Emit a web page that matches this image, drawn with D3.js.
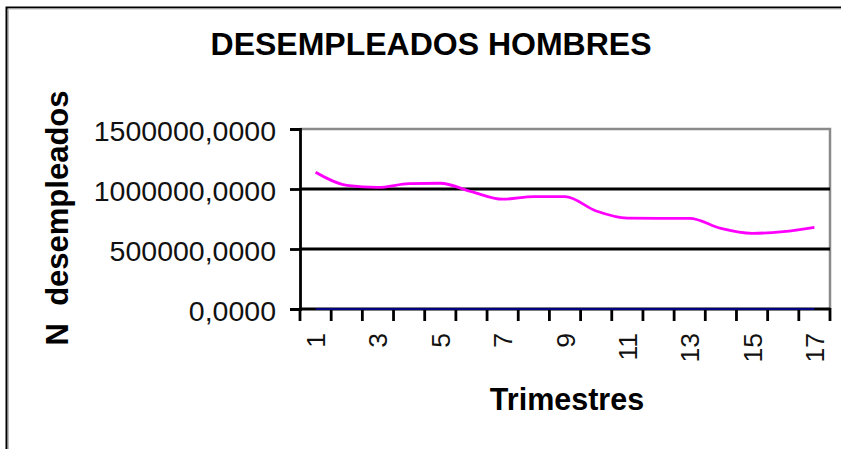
<!DOCTYPE html>
<html>
<head>
<meta charset="utf-8">
<script src="https://cdn.jsdelivr.net/npm/d3@7"></script>
<style>
  html, body { margin: 0; padding: 0; background: #fff; }
  svg { display: block; }
  text { font-family: "Liberation Sans", Arial, sans-serif; }
</style>
</head>
<body>
<svg id="chart" width="841" height="449"></svg>
<script>
const categories = [1,2,3,4,5,6,7,8,9,10,11,12,13,14,15,16,17];
const desempleados = [1139000,1030000,1013000,1045000,1048000,978000,915000,936000,936000,817000,758000,756000,756000,672000,631000,645000,681000];
const baseSeries = [0,0,0,0,0,0,0,0,0,0,0,0,0,0,0,0,0];
const xTickLabels = [1,3,5,7,9,11,13,15,17];
const yTicks = [0,500000,1000000,1500000];
const gridValues = [500000,1000000];
const title = "DESEMPLEADOS HOMBRES";
const xTitle = "Trimestres";
const yTitle = "N desempleados";

const svg = d3.select("#chart");
const plot = {left: 300, right: 830, top: 129, bottom: 309};

const x = d3.scaleBand().domain(categories).range([plot.left, plot.right]).padding(0);
const y = d3.scaleLinear().domain([0, 1500000]).range([plot.bottom, plot.top]);

// outer frame (top + left)
svg.append("path").attr("d", "M6.5,449 V7.5 H841").attr("fill","none").attr("stroke","#000").attr("stroke-width",2);
svg.append("path").attr("d", "M8.5,449 V9 H841").attr("fill","none").attr("stroke","#bbb").attr("stroke-width",1);

// plot top/right border (gray)
svg.append("path")
  .attr("d", `M${plot.left},${plot.top} H${plot.right} V${plot.bottom}`)
  .attr("fill","none").attr("stroke","#8a8a8a").attr("stroke-width",2.5);

// gridlines
svg.append("g").selectAll("line").data(gridValues).join("line")
  .attr("x1", plot.left).attr("x2", plot.right)
  .attr("y1", d => y(d)).attr("y2", d => y(d))
  .attr("stroke","#000").attr("stroke-width",2.8);

// y axis
const fmt = d => d.toFixed(4).replace(".", ",");
const yAxis = svg.append("g").attr("transform", `translate(${plot.left},0)`)
  .call(d3.axisLeft(y).tickValues(yTicks).tickSize(10).tickPadding(14).tickFormat(fmt));
yAxis.select(".domain").attr("stroke","#000").attr("stroke-width",2.8);
yAxis.selectAll(".tick line").attr("stroke","#000").attr("stroke-width",2.8);
yAxis.selectAll(".tick text")
  .attr("font-size", 28.5).attr("fill","#111").attr("dy","0.42em")
  .attr("font-family","'Liberation Sans', Arial, sans-serif");

// x axis
const xAxisG = svg.append("g").attr("transform", `translate(0,${plot.bottom})`);
xAxisG.append("line").attr("x1", plot.left).attr("x2", plot.right)
  .attr("y1", 0).attr("y2", 0).attr("stroke","#000").attr("stroke-width",2.8);
const boundaries = categories.map(c => x(c)).concat([x(categories[categories.length-1]) + x.bandwidth()]);
xAxisG.selectAll("line.tk").data(boundaries).join("line").attr("class","tk")
  .attr("x1", d => d).attr("x2", d => d).attr("y1", -1).attr("y2", 12)
  .attr("stroke","#000").attr("stroke-width",2.8);
const xAxis = xAxisG.append("g")
  .call(d3.axisBottom(x).tickValues(xTickLabels).tickSize(0).tickPadding(0));
xAxis.select(".domain").remove();
xAxis.selectAll(".tick text")
  .attr("transform","rotate(-90)")
  .attr("text-anchor","end")
  .attr("x", -24).attr("y", 0).attr("dy","0.36em")
  .attr("font-size", 26.5).attr("fill","#111")
  .attr("font-family","'Liberation Sans', Arial, sans-serif");

// zero series (navy)
const line = d3.line().x((d,i) => x(categories[i]) + x.bandwidth()/2).y(d => y(d)).curve(d3.curveMonotoneX);
svg.append("path").datum(baseSeries).attr("d", line)
  .attr("fill","none").attr("stroke","#000080").attr("stroke-width",1.8);

// main series
svg.append("path").datum(desempleados).attr("d", line)
  .attr("fill","none").attr("stroke","#ff00ff").attr("stroke-width",2.8);

// titles
svg.append("text").attr("x", 431).attr("y", 55).attr("text-anchor","middle")
  .attr("font-size", 32).attr("font-weight","bold").attr("fill","#000").text(title);
svg.append("text").attr("x", 567).attr("y", 410).attr("text-anchor","middle")
  .attr("font-size", 30.5).attr("font-weight","bold").attr("fill","#000").text(xTitle);
svg.append("text").attr("transform","translate(68,218) rotate(-90)").attr("text-anchor","middle")
  .attr("font-size", 31).attr("font-weight","bold").attr("fill","#000")
  .attr("xml:space","preserve").style("white-space","pre").text(yTitle.replace(" ", "  "));
</script>
</body>
</html>
